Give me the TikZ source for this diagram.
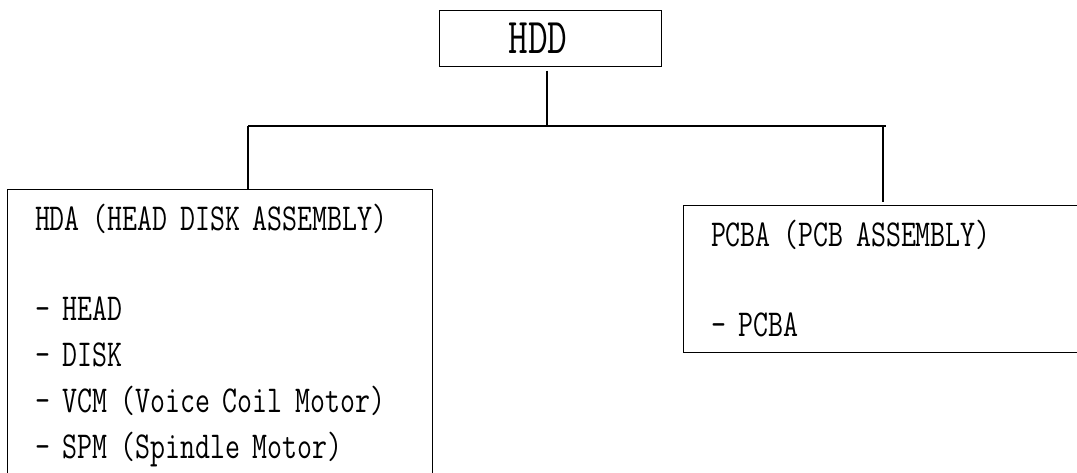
\documentclass[tikz,border=0pt]{standalone}
\usepackage{fontspec}
\newfontfamily\partfont[FakeStretch=0.765]{Latin Modern Mono}
\usetikzlibrary{positioning}

\begin{document}
\begin{tikzpicture}[x=1pt,y=-1pt,
    partbox/.style={draw,line width=1pt,anchor=north west,inner xsep=27.5pt,inner ysep=15pt,align=left,font=\partfont\fontsize{38}{46}\selectfont},
    link/.style={line width=1.5pt}]
    \useasboundingbox (0,0) rectangle (1077,472);
    \node[draw,line width=1pt,anchor=west,minimum height=56pt,inner xsep=69pt,text width=84pt,align=left,font=\partfont\fontsize{50}{60}\selectfont] (hdd) at (439,38) {HDD};
    \node[partbox,text width=370pt] (hda) at (7,189) {HDA (HEAD DISK ASSEMBLY)\\[44pt]- HEAD\\- DISK\\- VCM (Voice Coil Motor)\\- SPM (Spindle Motor)};
    \node[partbox,text width=420pt] (pcba) at (683,205) {PCBA (PCB ASSEMBLY)\\[44pt]- PCBA};
    \coordinate (busL) at (248,126);
    \coordinate (busM) at (547,126);
    \coordinate (busR) at (883,126);
    \draw[link,shorten <=4pt] (hdd.south -| busM) -- (busM);
    \draw[link] (busL) -- ([xshift=3pt]busR);
    \draw[link] (busL) -- (busL |- hda.north);
    \draw[link,shorten >=3pt] (busR) -- (busR |- pcba.north);
\end{tikzpicture}
\end{document}
